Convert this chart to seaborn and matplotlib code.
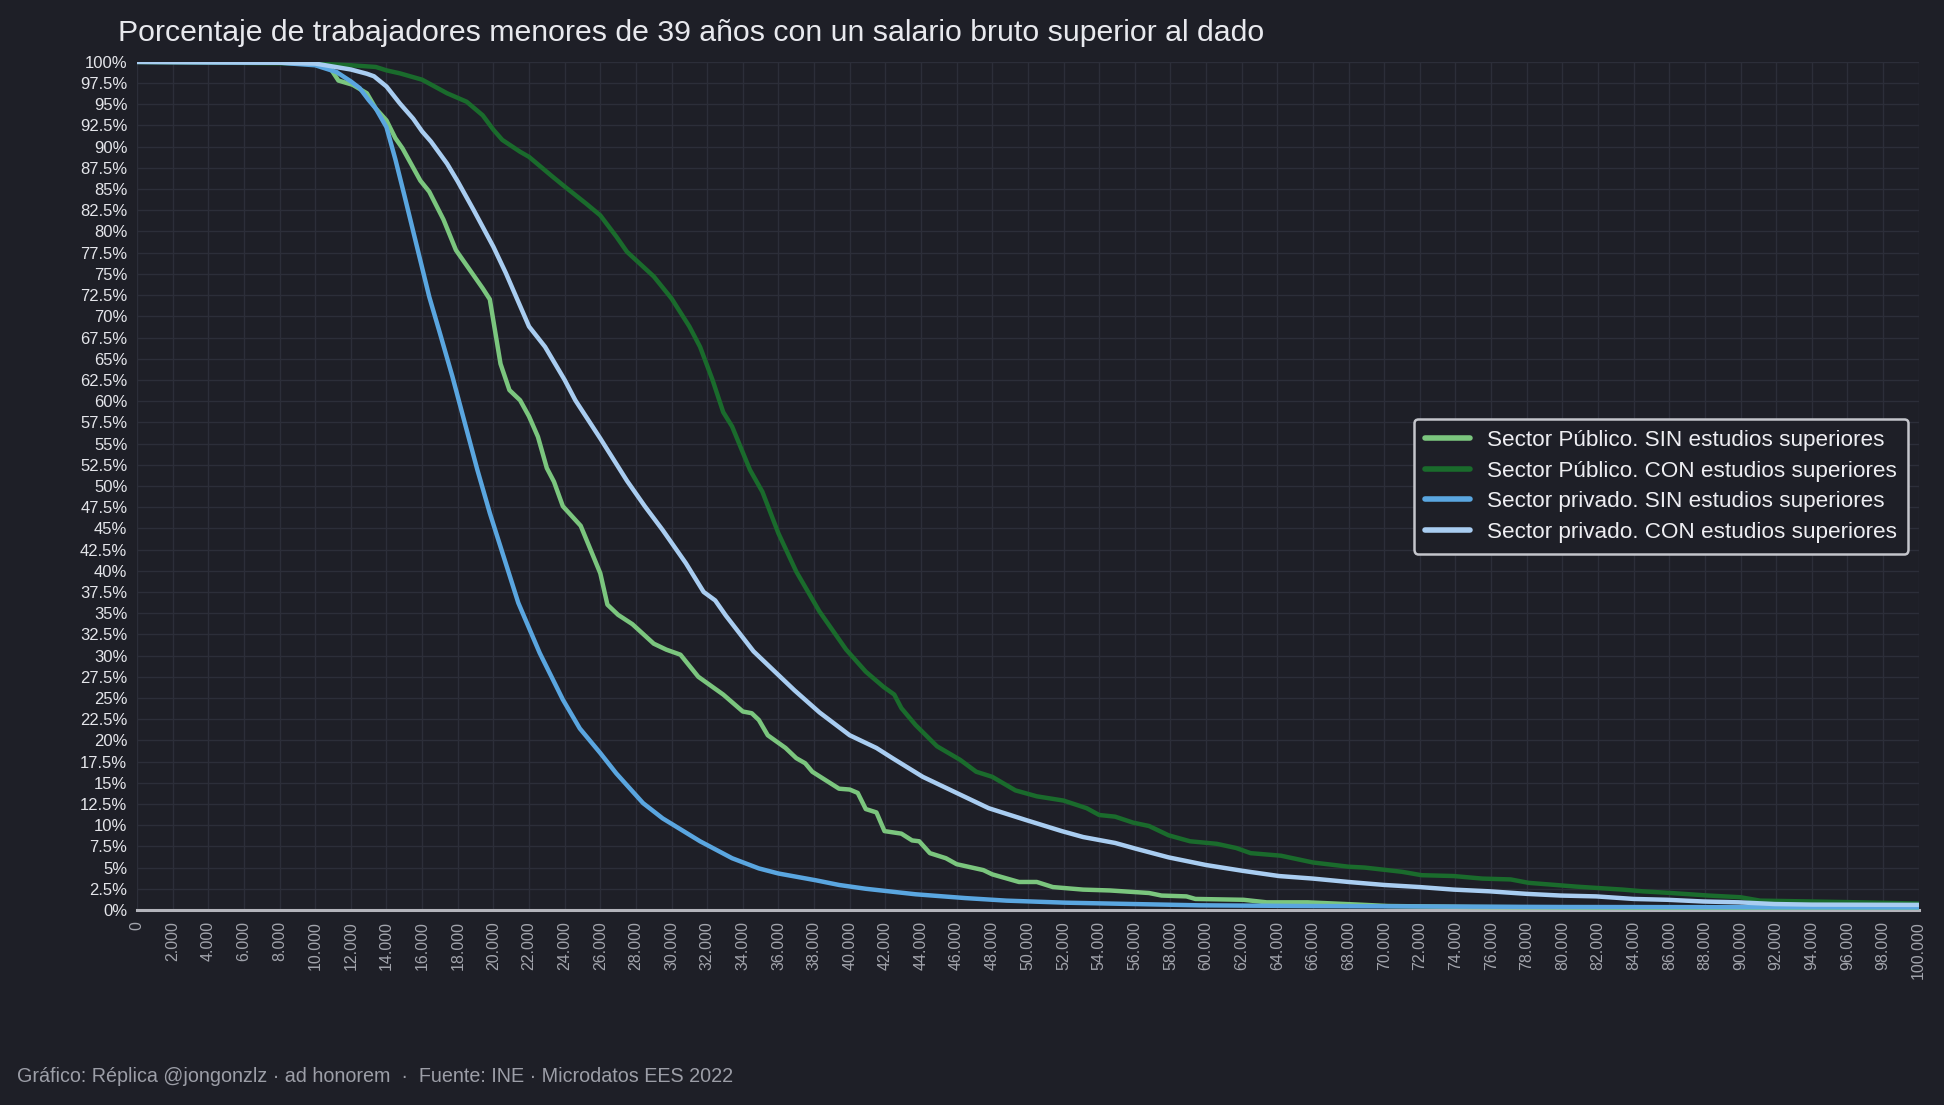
import numpy as np
import pandas as pd
import matplotlib
matplotlib.use("Agg")
import matplotlib.pyplot as plt
from matplotlib.ticker import FuncFormatter, MultipleLocator
import seaborn as sns

# --- datos (salario bruto anual, % de trabajadores por encima) ---
pub_sin_x = [0, 8000, 10000, 10800, 11300, 12100, 12900, 13400, 14000, 14500, 14900, 15900,
             16400, 17200, 17900, 18500, 19400, 19800, 20400, 20900, 21500, 22000, 22500,
             23000, 23400, 23900, 24900, 26000, 26400, 27000, 27800, 29000, 29700, 30500,
             31500, 32900, 34000, 34500, 34900, 35400, 36400, 37000, 37500, 37900, 39400,
             40000, 40450, 40900, 41500, 41950, 42900, 43500, 43900, 44500, 45400, 46000,
             47500, 48000, 49500, 50500, 51400, 53100, 54600, 56800, 57500, 58900, 59400,
             62100, 63400, 65700, 68600, 70200, 75000, 85000, 100000]
pub_sin_y = [100, 100, 99.8, 99.4, 97.8, 97.3, 96.3, 94.5, 93.1, 91.0, 89.8, 86.0,
             84.7, 81.4, 77.8, 76.0, 73.3, 72.0, 64.4, 61.3, 60.1, 58.2, 55.8,
             52.1, 50.5, 47.6, 45.3, 39.7, 36.0, 34.8, 33.7, 31.4, 30.7, 30.1,
             27.5, 25.4, 23.4, 23.2, 22.4, 20.6, 19.1, 17.9, 17.3, 16.3, 14.3,
             14.2, 13.8, 11.9, 11.5, 9.3, 9.0, 8.2, 8.1, 6.7, 6.1, 5.4,
             4.7, 4.2, 3.3, 3.3, 2.7, 2.4, 2.3, 2.0, 1.7, 1.6, 1.3,
             1.2, 0.9, 0.9, 0.63, 0.47, 0.35, 0.25, 0.2]

pub_con_x = [0, 10000, 12000, 13400, 14000, 14750, 16000, 17400, 18500, 19400, 20000, 20500,
             21500, 22000, 23300, 24000, 25200, 26000, 26900, 27500, 29000, 30000, 31000,
             31600, 32300, 32900, 33400, 34400, 35100, 36000, 37000, 38300, 39800, 40900,
             41900, 42500, 42900, 43700, 44900, 46200, 47100, 48000, 49300, 50500, 52000,
             53300, 54000, 54900, 55900, 56800, 57900, 59100, 60600, 61700, 62500, 64200,
             66000, 68000, 68900, 71000, 72100, 73900, 75500, 77100, 78100, 80800, 83400,
             84500, 86100, 88200, 90000, 91100, 94000, 96700, 99000, 100000]
pub_con_y = [100, 99.8, 99.6, 99.4, 99.0, 98.65, 97.9, 96.3, 95.3, 93.7, 92.0, 90.8,
             89.4, 88.8, 86.5, 85.3, 83.3, 81.9, 79.4, 77.6, 74.7, 72.1, 68.8,
             66.4, 62.5, 58.7, 57.0, 51.9, 49.3, 44.4, 39.9, 35.2, 30.7, 28.1,
             26.3, 25.4, 23.8, 21.8, 19.3, 17.7, 16.3, 15.7, 14.1, 13.4, 12.9,
             12.0, 11.2, 11.0, 10.3, 9.9, 8.8, 8.1, 7.8, 7.3, 6.7, 6.4,
             5.6, 5.1, 5.0, 4.5, 4.1, 4.0, 3.7, 3.6, 3.2, 2.75, 2.4,
             2.2, 2.0, 1.7, 1.5, 1.1, 1.0, 0.9, 0.8, 0.75]

priv_sin_x = [0, 8000, 10000, 11200, 12000, 12500, 13000, 13400, 14000, 14500, 15000, 15700,
              16400, 17000, 17700, 18500, 19100, 19800, 21400, 22600, 23900, 24850, 26000,
              26900, 28400, 29500, 31600, 33400, 34900, 36000, 38100, 39400, 40900, 43700,
              46500, 48800, 52100, 55900, 59600, 65200, 80000, 100000]
priv_sin_y = [100, 99.9, 99.6, 98.8, 97.7, 96.9, 95.5, 94.5, 92.3, 88.5, 84.3, 78.3,
              72.3, 68.0, 62.9, 56.6, 51.9, 46.8, 36.2, 30.3, 24.8, 21.4, 18.5,
              16.1, 12.6, 10.8, 8.1, 6.1, 4.9, 4.3, 3.5, 2.95, 2.5, 1.85,
              1.4, 1.1, 0.86, 0.7, 0.55, 0.47, 0.35, 0.3]

priv_con_x = [0, 8000, 10000, 12000, 12900, 13300, 14000, 14750, 15500, 16000, 16500, 17400,
              18000, 18900, 20000, 20700, 22000, 22900, 24000, 24600, 26000, 27500, 28500,
              29500, 30800, 31800, 32450, 33050, 34600, 35300, 36900, 38300, 40000, 41500,
              42400, 44100, 45800, 47800, 49900, 51900, 53100, 54900, 56100, 57900, 60000,
              62100, 64100, 66000, 68000, 70000, 72000, 73900, 75900, 78000, 79900, 81900,
              84000, 85900, 87900, 89900, 91900, 94000, 100000]
priv_con_y = [100, 99.9, 99.8, 99.1, 98.6, 98.3, 97.1, 95.1, 93.3, 91.8, 90.6, 88.0,
              85.9, 82.5, 78.2, 75.1, 68.8, 66.4, 62.5, 60.1, 55.6, 50.6, 47.6,
              44.8, 40.9, 37.5, 36.5, 34.7, 30.5, 29.1, 25.9, 23.3, 20.6, 19.1,
              17.9, 15.7, 14.0, 12.0, 10.6, 9.3, 8.6, 7.9, 7.2, 6.2, 5.3,
              4.6, 4.0, 3.7, 3.3, 2.95, 2.7, 2.4, 2.2, 1.9, 1.7, 1.6,
              1.3, 1.2, 1.0, 0.9, 0.7, 0.63, 0.6]

series = [
    ("Sector Público. SIN estudios superiores", pub_sin_x, pub_sin_y, "#7bc67e"),
    ("Sector Público. CON estudios superiores", pub_con_x, pub_con_y, "#1a6b2c"),
    ("Sector privado. SIN estudios superiores", priv_sin_x, priv_sin_y, "#5aa6e0"),
    ("Sector privado. CON estudios superiores", priv_con_x, priv_con_y, "#a9cdf1"),
]

df = pd.concat(
    [pd.DataFrame({"salario": xs, "pct": ys, "serie": name}) for name, xs, ys, _ in series],
    ignore_index=True,
)
palette = {name: color for name, _, _, color in series}

BG = "#1e1f27"
GRID = "#2c2e39"

sns.set_theme(style="dark")
plt.rcParams["font.family"] = ["Liberation Sans", "DejaVu Sans"]

fig = plt.figure(figsize=(19.44, 11.05), dpi=100, facecolor=BG)
ax = fig.add_axes([0.0705, 0.1765, 0.9165, 0.7675])
ax.set_facecolor(BG)

sns.lineplot(data=df, x="salario", y="pct", hue="serie", palette=palette,
             linewidth=3.2, estimator=None, sort=False, ax=ax)

ax.set_xlim(0, 100000)
ax.set_ylim(0, 100)
ax.xaxis.set_major_locator(MultipleLocator(2000))
ax.yaxis.set_major_locator(MultipleLocator(2.5))
ax.xaxis.set_major_formatter(FuncFormatter(lambda v, p: f"{int(v):,}".replace(",", ".")))
ax.yaxis.set_major_formatter(FuncFormatter(lambda v, p: f"{v:g}%"))

ax.grid(True, color=GRID, linewidth=1)
ax.set_axisbelow(True)
for side in ["top", "right", "left"]:
    ax.spines[side].set_visible(False)
ax.spines["bottom"].set_color("#b3b4bb")
ax.spines["bottom"].set_linewidth(2.2)
ax.spines["bottom"].set_zorder(1)

ax.tick_params(axis="x", length=0, pad=8, labelsize=11.5, labelcolor="#a3a5ad", rotation=90)
ax.tick_params(axis="y", length=0, pad=7, labelsize=12, labelcolor="#e4e5ea")
ax.set_xlabel("")
ax.set_ylabel("")

leg = ax.legend(loc="upper right", bbox_to_anchor=(0.994, 0.579), borderaxespad=0,
                fontsize=16.2, frameon=True, facecolor=BG, edgecolor="#c4c5cb",
                handlelength=2.0, handletextpad=0.75, labelspacing=0.42, borderpad=0.5)
leg.get_frame().set_linewidth(1.8)
leg.get_frame().set_alpha(1)
for text in leg.get_texts():
    text.set_color("#eeeef2")
for line in leg.get_lines():
    line.set_linewidth(4)

fig.text(0.0607, 0.970, "Porcentaje de trabajadores menores de 39 años con un salario bruto superior al dado",
         fontsize=21.8, color="#e8e9ee", ha="left", va="center")
fig.text(0.009, 0.026, "Gráfico: Réplica @jongonzlz · ad honorem  ·  Fuente: INE · Microdatos EES 2022",
         fontsize=14.2, color="#9c9ea7", ha="left", va="center")

fig.savefig("out.png", dpi=100, facecolor=BG)
